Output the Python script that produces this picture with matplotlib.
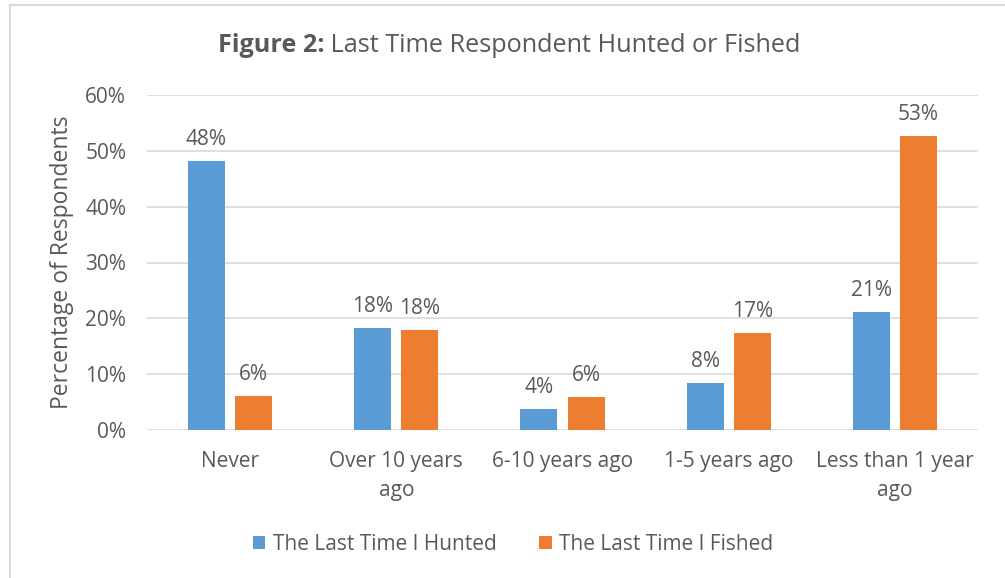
import matplotlib
matplotlib.use("Agg")
import matplotlib.pyplot as plt
import numpy as np
from matplotlib.lines import Line2D
from matplotlib.patches import Patch

categories = ["Never", "Over 10 years\nago", "6-10 years ago", "1-5 years ago", "Less than 1 year\nago"]
hunted = [48.2, 18.3, 3.8, 8.4, 21.1]
fished = [6.1, 17.9, 5.9, 17.3, 52.6]
series_names = ["The Last Time I Hunted", "The Last Time I Fished"]
yticks = [0, 10, 20, 30, 40, 50, 60]

BLUE = "#5B9BD5"
ORANGE = "#ED7D31"
TXT = "#595959"
FONT = "Open Sans"

plt.rcParams['font.family'] = [FONT, 'DejaVu Sans']

W, H = 1005, 578
fig = plt.figure(figsize=(W / 100, H / 100), dpi=100)
ax = fig.add_axes([147 / W, (H - 430) / H, (978 - 147) / W, (430 - 95) / H])

x = np.arange(len(categories))
bw = 0.223
off = 0.142
b1 = ax.bar(x - off, hunted, bw, color=BLUE, label=series_names[0], zorder=3)
b2 = ax.bar(x + off, fished, bw, color=ORANGE, label=series_names[1], zorder=3)

for bars in (b1, b2):
    ax.bar_label(bars, labels=[f"{v:.0f}%" for v in bars.datavalues], padding=8,
                 fontsize=15, color=TXT)

ax.set_xlim(-0.5, len(categories) - 0.5)
ax.set_ylim(0, 60)
ax.set_yticks(yticks)
ax.set_yticklabels([f"{t}%" for t in yticks])
ax.set_xticks(x)
ax.set_xticklabels(categories, linespacing=1.5)
ax.tick_params(axis='y', length=0, pad=15, labelsize=15, labelcolor=TXT)
ax.tick_params(axis='x', length=0, pad=15, labelsize=15, labelcolor=TXT)
ax.grid(axis='y', color="#D9D9D9", linewidth=1.2, zorder=0)
ax.set_axisbelow(True)
for s in ax.spines.values():
    s.set_visible(False)

ax.set_ylabel("Percentage of Respondents", fontsize=16.5, color=TXT, labelpad=8)

ty = (H - 46) / H
t1 = fig.text(0, ty, "Figure 2:", ha='left', va='center', fontsize=18.2, color=TXT, fontweight='bold')
t2 = fig.text(0, ty, " Last Time Respondent Hunted or Fished", ha='left', va='center',
              fontsize=18.2, color=TXT)
fig.canvas.draw()
r = fig.canvas.get_renderer()
w1 = t1.get_window_extent(r).width
w2 = t2.get_window_extent(r).width
start = 509 - (w1 + w2) / 2
t1.set_x(start / W)
t2.set_x((start + w1) / W)

handles = [Patch(facecolor=BLUE), Patch(facecolor=ORANGE)]
fig.legend(handles, series_names, loc='center', bbox_to_anchor=(513 / W, (H - 544) / H),
           ncol=2, frameon=False, fontsize=15, labelcolor=TXT, handlelength=0.6, handleheight=0.6,
           handletextpad=0.35, columnspacing=2.05)

# outer border
fig.add_artist(Line2D([10 / W, 10 / W], [0, (H - 5) / H], transform=fig.transFigure, color="#D9D9D9", lw=1.5))
fig.add_artist(Line2D([10 / W, 1], [(H - 5) / H, (H - 5) / H], transform=fig.transFigure, color="#D9D9D9", lw=1.5))

fig.savefig("out.png", dpi=100, facecolor="white")
